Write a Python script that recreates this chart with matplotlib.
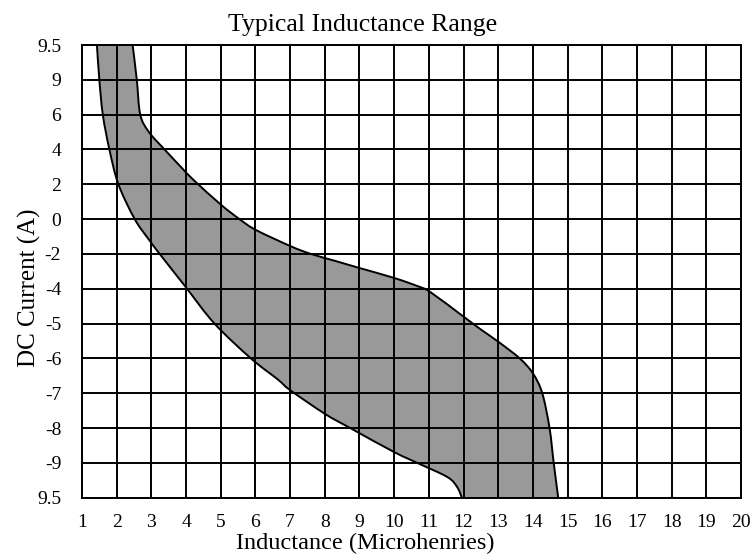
import matplotlib
matplotlib.use("Agg")
import matplotlib.pyplot as plt
from matplotlib.path import Path
from matplotlib.patches import PathPatch
import numpy as np

# Category labels of the y axis (top to bottom) and x ticks
y_labels = ['9.5', '9', '6', '4', '2', '0', '-2', '-4', '-5', '-6', '-7', '-8', '-9', '9.5']
x_ticks = list(range(1, 21))

# Lower-inductance boundary (row position on the category axis, inductance)
low_rows = [0, 1, 2, 3, 4, 5, 5.59, 6.0, 6.95, 8.0, 9.0, 9.6, 9.91, 10.59, 11.02, 11.69, 12.03, 12.41, 12.7, 13]
low_L = [1.43, 1.5, 1.6, 1.79, 2.05, 2.52, 2.93, 3.24, 3.99, 4.82, 5.87, 6.64, 7.0, 8.0, 8.77, 10.0, 10.73, 11.54, 11.82, 11.95]

# Upper-inductance boundary (row position on the category axis, inductance)
up_rows = [0, 1, 2, 2.5, 3, 3.5, 3.88, 4.59, 5.0, 5.31, 5.78, 6.0, 6.2, 6.39, 6.69, 6.93, 7.1, 7.8, 8.17, 8.52, 9.0, 9.43, 10, 11, 12, 13]
up_L = [2.46, 2.58, 2.68, 2.93, 3.38, 3.85, 4.22, 5.01, 5.54, 6.01, 7.02, 7.6, 8.3, 8.95, 10.0, 10.69, 11.05, 12.0, 12.5, 13.0, 13.62, 14.0, 14.27, 14.48, 14.6, 14.73]


def smooth_path_codes(xs, ys):
    pts = np.column_stack([xs, ys]).astype(float)
    n = len(pts)
    verts = [pts[0]]
    codes = [Path.MOVETO]
    for i in range(n - 1):
        p0 = pts[i - 1] if i > 0 else pts[i]
        p1 = pts[i]
        p2 = pts[i + 1]
        p3 = pts[i + 2] if i + 2 < n else pts[i + 1]
        c1 = p1 + (p2 - p0) / 6.0
        c2 = p2 - (p3 - p1) / 6.0
        verts += [c1, c2, p2]
        codes += [Path.CURVE4] * 3
    return verts, codes


plt.rcParams['font.family'] = ['Liberation Serif', 'DejaVu Serif']

fig = plt.figure(figsize=(7.56, 5.59), dpi=100)
ax = fig.add_axes([82 / 756, 1 - 497.7 / 559, (741 - 82) / 756, (497.7 - 45) / 559])

# Band fill
lv, lc = smooth_path_codes(low_L, low_rows)
uv, uc = smooth_path_codes(up_L[::-1], up_rows[::-1])
verts = lv + [uv[0]] + uv[1:] + [lv[0]]
codes = lc + [Path.LINETO] + uc[1:] + [Path.CLOSEPOLY]
band = PathPatch(Path(verts, codes), facecolor='#999999', edgecolor='none', zorder=1)
ax.add_patch(band)

# Boundary lines
for xs, ys in ((low_L, low_rows), (up_L, up_rows)):
    v, c = smooth_path_codes(xs, ys)
    ax.add_patch(PathPatch(Path(v, c), facecolor='none', edgecolor='black', lw=1.4, zorder=3))

ax.set_xlim(1, 20)
ax.set_ylim(len(y_labels) - 1, 0)
ax.set_xticks(x_ticks)
ax.set_xticklabels([str(t) for t in x_ticks])
ax.set_yticks(range(len(y_labels)))
ax.set_yticklabels(y_labels)
ax.grid(True, color='black', lw=1.4)
ax.set_axisbelow(False)
for s in ax.spines.values():
    s.set_linewidth(1.4)
    s.set_zorder(4)
ax.tick_params(length=0, labelsize=14)
ax.tick_params(axis='y', pad=15)
ax.tick_params(axis='x', pad=12)

ax.set_xlabel('Inductance (Microhenries)', fontsize=17.5, labelpad=1, x=0.43)
ax.set_ylabel('DC Current (A)', fontsize=18, labelpad=-3, y=0.463)
ax.set_title('Typical Inductance Range', fontsize=18.5, pad=10, x=0.425)

fig.savefig('out.png', dpi=100)
